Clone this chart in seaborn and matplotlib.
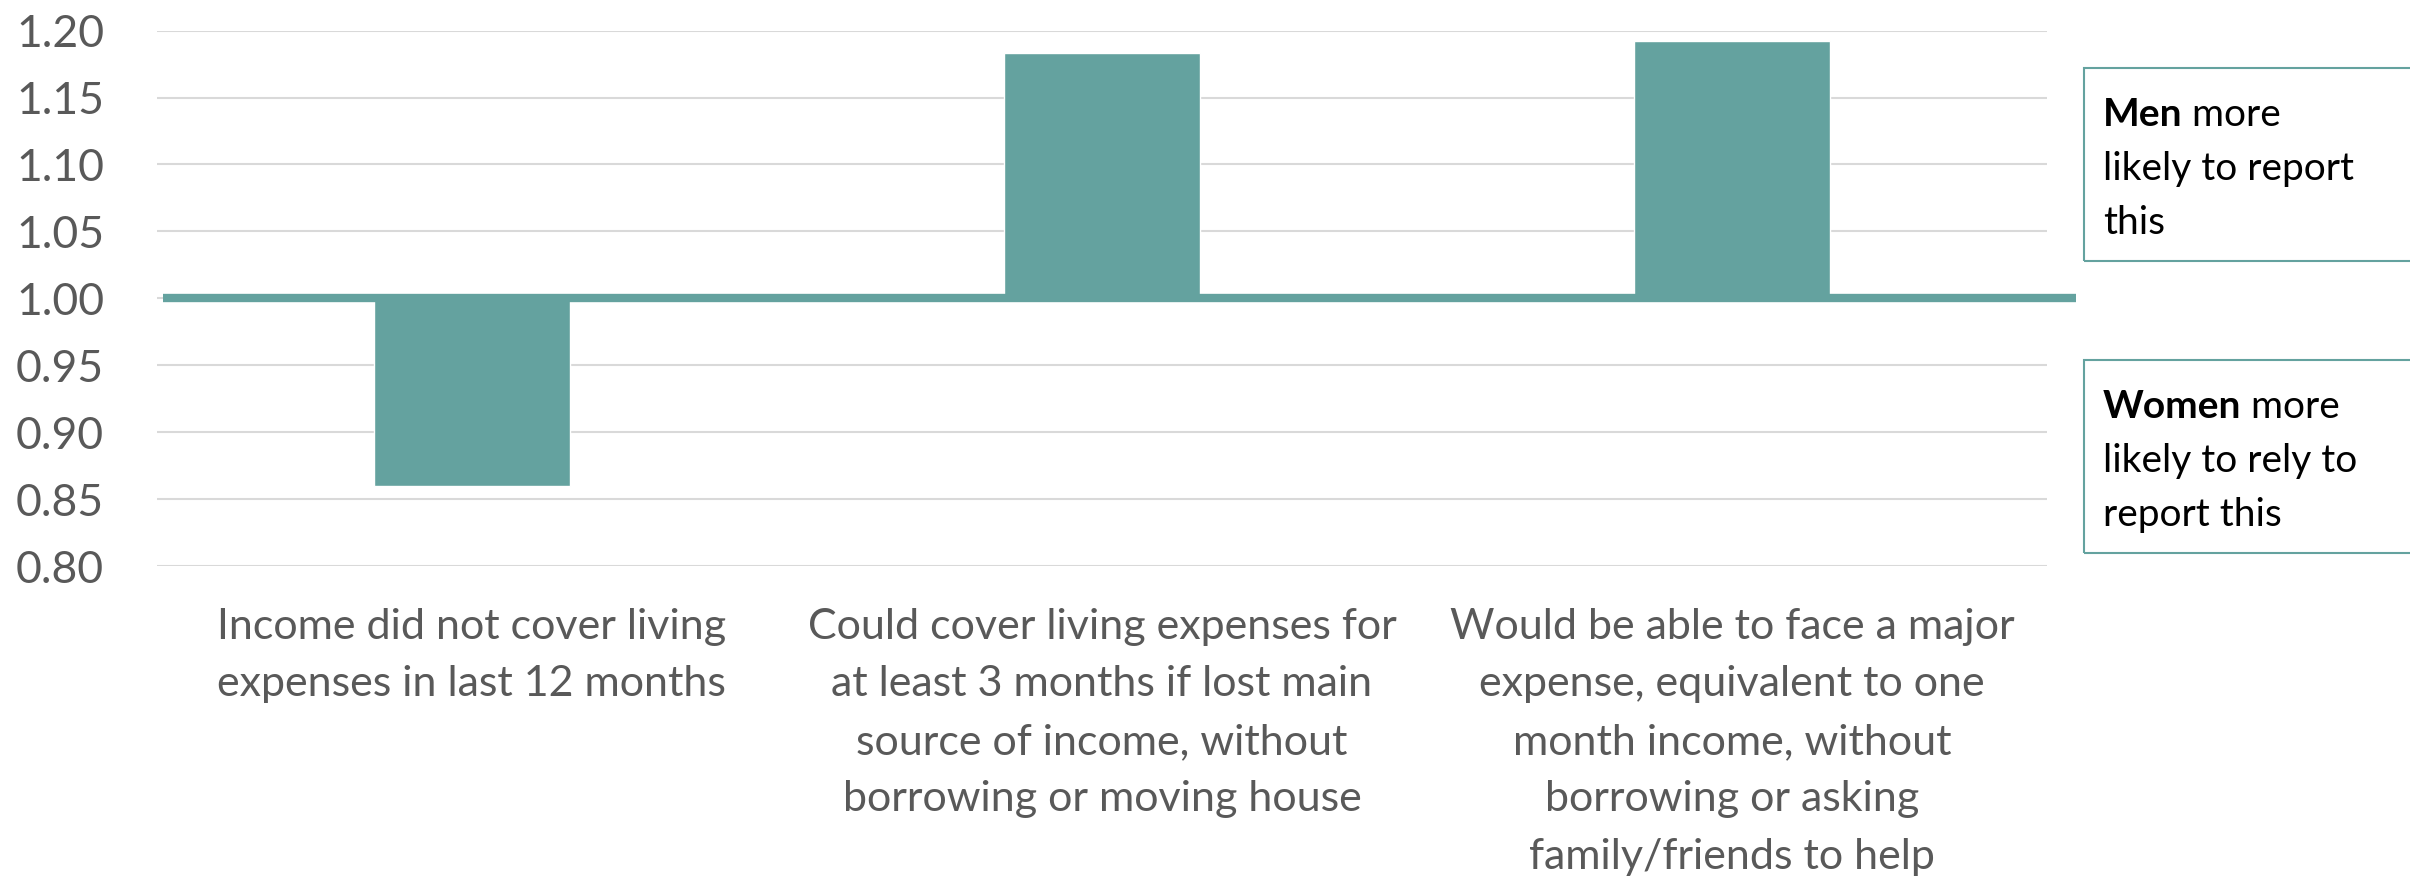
import matplotlib
matplotlib.use("Agg")
import matplotlib.pyplot as plt
import seaborn as sns
import pandas as pd
from matplotlib.patches import Rectangle

# Gender ratio (men / women) for each financial-resilience indicator
categories = [
    "Income did not cover living\nexpenses in last 12 months",
    "Could cover living expenses for\nat least 3 months if lost main\nsource of income, without\nborrowing or moving house",
    "Would be able to face a major\nexpense, equivalent to one\nmonth income, without\nborrowing or asking\nfamily/friends to help",
]
ratios = [0.86, 1.183, 1.192]
baseline = 1.00
y_ticks = [0.80, 0.85, 0.90, 0.95, 1.00, 1.05, 1.10, 1.15, 1.20]

TEAL = "#64A29F"
GRID = "#D9D9D9"
LABEL = "#595959"
FONT = "Lato"

sns.set_style("white")
plt.rcParams["font.family"] = [FONT, "DejaVu Sans"]

fig = plt.figure(figsize=(24.10, 8.84), dpi=100)
ax = fig.add_axes([0.0651, 0.3597, 0.8494 - 0.0651, 0.9654 - 0.3597])

df = pd.DataFrame({"category": categories,
                   "offset": [r - baseline for r in ratios]})

# bars grow up or down from the parity line at 1.00
sns.barplot(data=df, x="category", y="offset", bottom=baseline, width=0.31,
            color=TEAL, saturation=1, errorbar=None, ax=ax, zorder=2)

ax.set_ylim(y_ticks[0], y_ticks[-1])
ax.set_xlim(-0.5, len(categories) - 0.5)
ax.set_yticks(y_ticks)
ax.set_yticklabels([f"{t:.2f}" for t in y_ticks])
ax.set_xlabel("")
ax.set_ylabel("")

for t in y_ticks:
    ax.axhline(t, color=GRID, lw=1.5, zorder=0)

# parity line, running slightly past the plot area
ax.axhline(baseline, xmin=0.003, xmax=1.0153, color=TEAL, lw=6, zorder=3,
           clip_on=False, solid_capstyle="butt")

for s in ax.spines.values():
    s.set_visible(False)
ax.tick_params(axis="y", length=0, pad=38, labelsize=32, labelcolor=LABEL)
ax.tick_params(axis="x", length=0, pad=30, labelsize=31, labelcolor=LABEL)
for lab in ax.get_xticklabels():
    lab.set_linespacing(1.63)
    lab.set_family([FONT, "DejaVu Sans"])

# side notes explaining the direction of the ratio
W, H = 2410.0, 884.0


def note_box(top_px, bold_word, first_rest, lines):
    x0, x1 = 2084 / W, 2430 / W
    y0, y1 = 1 - (top_px + 193) / H, 1 - top_px / H
    fig.patches.append(Rectangle((x0, y0), x1 - x0, y1 - y0,
                                 transform=fig.transFigure, fill=False,
                                 edgecolor=TEAL, lw=1.5, clip_on=False))
    tx = 2103 / W
    first_y = 1 - (top_px + 47) / H
    b = fig.text(tx, first_y, bold_word, fontsize=28, fontweight="bold",
                 color="black", va="center", ha="left")
    ax.annotate(first_rest, xy=(1, 0.5), xycoords=b, va="center", ha="left",
                fontsize=28, color="black", annotation_clip=False)
    for i, line in enumerate(lines):
        fig.text(tx, 1 - (top_px + 47 + 54 * (i + 1)) / H, line, fontsize=28,
                 color="black", va="center", ha="left")


note_box(68, "Men", " more", ["likely to report", "this"])
note_box(360, "Women", " more", ["likely to rely to", "report this"])

fig.savefig("out.png", dpi=100)
